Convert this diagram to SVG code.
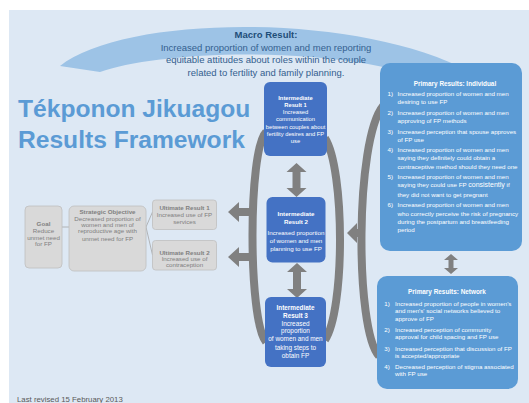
<svg xmlns="http://www.w3.org/2000/svg" width="529" height="403" viewBox="0 0 529 403">
<style>
text{font-family:"Liberation Sans",Arial,sans-serif}
.ir{fill:#4472c4}
.pr{fill:#5b9bd5}
.gb{fill:#d9d9d9;stroke:#bfbfbf;stroke-width:0.8}
.w{fill:#fff;font-size:5.8px}
.wb{fill:#fff;font-weight:bold}
.g{fill:#808080;font-size:6.2px}
.gbld{fill:#808080;font-size:6.2px;font-weight:bold}
.p{fill:#fff;font-size:6.2px}
.arc{fill:none;stroke:#808080;stroke-width:8}
.ar{fill:#808080}
.ln{stroke:#a6a6a6;stroke-width:0.8;fill:none}
.c{text-anchor:middle}
</style>
<rect x="9" y="10" width="520" height="393" fill="#dde8f4"/>
<path d="M60,66 C125,14 360,12 470,72 L470,95 C360,40 160,50 100,72 Z" fill="#9dc3e6"/>
<g id="macro">
<text x="266" y="37.5" class="c" style="font-size:9.5px;font-weight:bold;fill:#1f4e79">Macro Result:</text>
<text x="266" y="50.5" class="c" style="font-size:9.5px;fill:#34608f">Increased proportion of women and men reporting</text>
<text x="266" y="63" class="c" style="font-size:9.5px;fill:#34608f">equitable attitudes about roles within the couple</text>
<text x="266" y="75.5" class="c" style="font-size:9.5px;fill:#34608f">related to fertility and family planning.</text>
</g>
<g id="title">
<text x="18" y="117" style="font-size:24.6px;font-weight:bold;fill:#5b9bd5">Tékponon Jikuagou</text>
<text x="18" y="148" style="font-size:24.6px;font-weight:bold;fill:#5b9bd5">Results Framework</text>
</g>
<g id="connectors">
<path class="arc" d="M266,132 C248,150 248,320 266,342"/>
<path class="arc" d="M325,138 C345,170 345,310 325,340"/>
<path class="arc" d="M383,106 C355,140 355,330 379,356"/>
<polygon class="ar" points="228,212 239,202 239,208 253,208 253,216 239,216 239,222"/>
<polygon class="ar" points="228,257 239,247 239,253 253,253 253,261 239,261 239,267"/>
<polygon class="ar" points="347,233 357,223 357,229 362,229 362,237 357,237 357,243"/>
<polygon class="ar" points="296.5,163 306.5,172 300.5,172 300.5,188 306.5,188 296.5,197 286.5,188 292.5,188 292.5,172 286.5,172"/>
<polygon class="ar" points="297,263 307,272 301,272 301,289 307,289 297,298 287,289 293,289 293,272 287,272"/>
<polygon class="ar" points="451,254 458,260 453.5,260 453.5,268 458,268 451,274 444,268 448.5,268 448.5,260 444,260"/>
<line class="ln" x1="62" y1="227" x2="69" y2="227"/>
<line class="ln" x1="146" y1="227" x2="152.5" y2="212"/>
<line class="ln" x1="146" y1="227" x2="152.5" y2="255"/>
</g>
<g id="ir1">
<rect class="ir" x="264" y="82" width="63" height="74" rx="6"/>
<text class="wb c" x="295.5" y="100" style="font-size:5.8px">Intermediate</text>
<text class="wb c" x="295.5" y="106.5" style="font-size:5.8px">Result 1</text>
<text class="w c" x="295.5" y="113.8">Increased</text>
<text class="w c" x="295.5" y="121.1">communication</text>
<text class="w c" x="295.5" y="128.6">between couples about</text>
<text class="w c" x="295.5" y="136">fertility desires and FP</text>
<text class="w c" x="295.5" y="143">use</text>
</g>
<g id="ir2">
<rect class="ir" x="266.5" y="197" width="59" height="65.5" rx="6"/>
<text class="wb c" x="296" y="215.5" style="font-size:6.2px">Intermediate</text>
<text class="wb c" x="296" y="223.5" style="font-size:6.2px">Result 2</text>
<text class="w c" x="296" y="235" style="font-size:6.2px">Increased proportion</text>
<text class="w c" x="296" y="243" style="font-size:6.2px">of women and men</text>
<text class="w c" x="296" y="250.5" style="font-size:6.2px">planning to use FP</text>
</g>
<g id="ir3">
<rect class="ir" x="265" y="297" width="61" height="70" rx="6"/>
<text class="wb c" x="295.5" y="309.5" style="font-size:6.4px">Intermediate</text>
<text class="wb c" x="295.5" y="317.5" style="font-size:6.4px">Result 3</text>
<text class="w c" x="295.5" y="325.5" style="font-size:6.4px">Increased</text>
<text class="w c" x="295.5" y="333" style="font-size:6.4px">proportion</text>
<text class="w c" x="295.5" y="341.2" style="font-size:6.4px">of women and men</text>
<text class="w c" x="295.5" y="349.5" style="font-size:6.4px">taking steps to</text>
<text class="w c" x="295.5" y="357.5" style="font-size:6.4px">obtain FP</text>
</g>
<g id="pri">
<rect class="pr" x="380" y="63" width="142" height="188" rx="10"/>
<text class="wb c" x="455" y="85.7" style="font-size:6.4px">Primary Results: Individual</text>
<text class="p" x="387.5" y="96.2">1)</text>
<text class="p" x="397.5" y="96.2">Increased proportion of women and men</text>
<text class="p" x="397.5" y="104">desiring to  use FP</text>
<text class="p" x="387.5" y="115">2)</text>
<text class="p" x="397.5" y="115">Increased proportion of women and men</text>
<text class="p" x="397.5" y="123">approving of FP methods</text>
<text class="p" x="387.5" y="134">3)</text>
<text class="p" x="397.5" y="134">Increased perception that spouse approves</text>
<text class="p" x="397.5" y="141.7">of FP use</text>
<text class="p" x="387.5" y="152.3">4)</text>
<text class="p" x="397.5" y="152.3">Increased proportion of women and men</text>
<text class="p" x="397.5" y="160.2">saying they definitely could obtain a</text>
<text class="p" x="397.5" y="168.5">contraceptive method should they need one</text>
<text class="p" x="387.5" y="179">5)</text>
<text class="p" x="397.5" y="179">Increased proportion of women and men</text>
<text class="p" x="397.5" y="187.3">saying they could use FP <tspan style="font-size:7px">consistently</tspan> if</text>
<text class="p" x="397.5" y="196.5">they did not want to get pregnant</text>
<text class="p" x="387.5" y="207">6)</text>
<text class="p" x="397.5" y="207">Increased proportion of women and men</text>
<text class="p" x="397.5" y="215.5">who correctly perceive the risk of pregnancy</text>
<text class="p" x="397.5" y="224">during the postpartum and breastfeeding</text>
<text class="p" x="397.5" y="232.3">period</text>
</g>
<g id="prn">
<rect class="pr" x="377" y="276" width="141" height="113" rx="10"/>
<text class="wb c" x="447" y="294" style="font-size:6.4px">Primary Results: Network</text>
<text class="p" x="384.3" y="305.5">1)</text>
<text class="p" x="395" y="305.5">Increased proportion of people in women's</text>
<text class="p" x="395" y="313">and men's' social networks believed to</text>
<text class="p" x="395" y="320.5">approve of FP</text>
<text class="p" x="384.3" y="331.5">2)</text>
<text class="p" x="395" y="331.5">Increased perception of community</text>
<text class="p" x="395" y="339">approval for child spacing and FP use</text>
<text class="p" x="384.3" y="350.5">3)</text>
<text class="p" x="395" y="350.5">Increased perception that discussion of FP</text>
<text class="p" x="395" y="358">is accepted/appropriate</text>
<text class="p" x="384.3" y="369">4)</text>
<text class="p" x="395" y="369">Decreased perception of stigma associated</text>
<text class="p" x="395" y="376.3">with FP use</text>
</g>
<g id="goal">
<rect class="gb" x="25" y="206" width="37" height="62" rx="4"/>
<text class="gbld c" x="43.5" y="226.2">Goal</text>
<text class="g c" x="43.5" y="232.9">Reduce</text>
<text class="g c" x="43.5" y="239.5">unmet need</text>
<text class="g c" x="43.5" y="246.2">for FP</text>
</g>
<g id="so">
<rect class="gb" x="69" y="206" width="77" height="65" rx="5"/>
<text class="gbld c" x="107.5" y="213.9">Strategic Objective</text>
<text class="g c" x="107.5" y="220.5">Decreased proportion of</text>
<text class="g c" x="107.5" y="227.2">women and men  of</text>
<text class="g c" x="107.5" y="233.4">reproductive age with</text>
<text class="g c" x="107.5" y="240.5">unmet need for FP</text>
</g>
<g id="ur1">
<rect class="gb" x="152.5" y="200" width="64" height="29.5" rx="3"/>
<text class="gbld c" x="184.5" y="209.5">Ultimate Result 1</text>
<text class="g c" x="184.5" y="216.5">Increased use of FP</text>
<text class="g c" x="184.5" y="223.9">services</text>
</g>
<g id="ur2">
<rect class="gb" x="152.5" y="240.5" width="64" height="29.5" rx="3"/>
<text class="gbld c" x="184.5" y="254.5">Ultimate Result 2</text>
<text class="g c" x="184.5" y="261.2">Increased use of</text>
<text class="g c" x="184.5" y="267.2">contraception</text>
</g>
<text x="17" y="401.5" style="font-size:7.8px;fill:#595959">Last revised 15 February 2013</text>
</svg>
